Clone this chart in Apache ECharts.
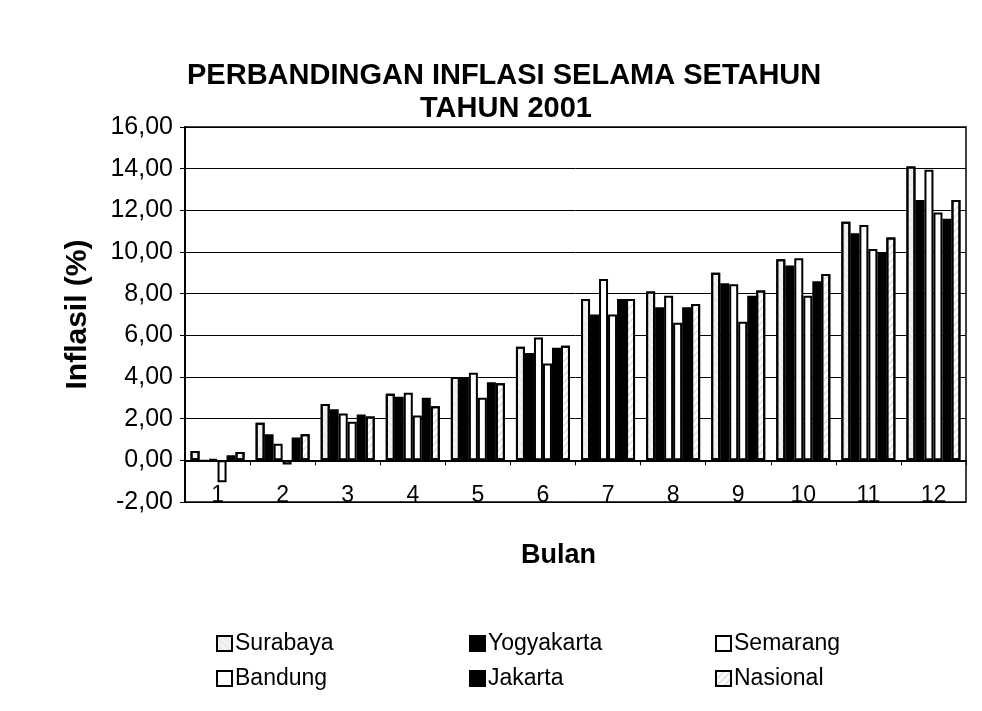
<!DOCTYPE html>
<html>
<head>
<meta charset="utf-8">
<script src="https://cdn.jsdelivr.net/npm/echarts@6/dist/echarts.min.js"></script>
<style>
html,body{margin:0;padding:0;background:#fff;}
#chart{width:982px;height:711px;}
</style>
</head>
<body>
<div id="chart"></div>
<script>
// ---- Data ----
var months = ['1','2','3','4','5','6','7','8','9','10','11','12'];
var surabaya   = [0.45, 1.8, 2.7, 3.2, 4.0, 5.45, 7.75, 8.1, 9.0, 9.65, 11.45, 14.1];
var yogyakarta = [-0.05, 1.25, 2.45, 3.05, 4.0, 5.15, 7.0, 7.35, 8.5, 9.35, 10.9, 12.5];
var semarang   = [0.05, 0.8, 2.25, 3.25, 4.2, 5.9, 8.7, 7.9, 8.45, 9.7, 11.3, 13.95];
var bandung    = [-1.05, -0.2, 1.85, 2.15, 3.0, 4.65, 7.0, 6.6, 6.65, 7.9, 10.15, 11.9];
var jakarta    = [0.25, 1.1, 2.2, 3.0, 3.75, 5.4, 7.75, 7.35, 7.9, 8.6, 10.0, 11.6];
var nasional   = [0.4, 1.25, 2.1, 2.6, 3.7, 5.5, 7.75, 7.5, 8.15, 8.95, 10.7, 12.5];
var yTicks = {min: -2, max: 16, step: 2};
var titleLines = ['PERBANDINGAN INFLASI SELAMA SETAHUN', 'TAHUN 2001'];

var FONT = 'Liberation Sans, Arial, sans-serif';
var chart = echarts.init(document.getElementById('chart'), null, {renderer: 'canvas'});

function bar(name, data, fill, decal) {
  var s = {
    name: name, type: 'bar', data: data, xAxisIndex: 0, yAxisIndex: 0,
    barGap: '0%', barCategoryGap: '17%',
    itemStyle: {color: fill, borderColor: '#000', borderWidth: 2},
    emphasis: {disabled: true}
  };
  if (decal) s.itemStyle.decal = decal;
  return s;
}

var legendCommon = {
  orient: 'vertical', top: 627, itemGap: 12, itemWidth: 15, itemHeight: 15,
  icon: 'rect',
  textStyle: {fontFamily: FONT, fontSize: 23, color: '#000', padding: [0, 0, 0, -2]},
  itemStyle: {borderColor: '#000', borderWidth: 2}
};

var titleStyle = {fontFamily: FONT, fontSize: 29, fontWeight: 'bold', color: '#000'};

var option = {
  backgroundColor: '#fff',
  animation: false,
  textStyle: {fontFamily: FONT, color: '#000'},
  title: [
    {text: titleLines[0], left: 187, top: 61, padding: 0, textStyle: titleStyle},
    {text: titleLines[1], left: 420, top: 94, padding: 0, textStyle: titleStyle}
  ],
  legend: [
    Object.assign({}, legendCommon, {left: 211, data: ['Surabaya', 'Bandung']}),
    Object.assign({}, legendCommon, {left: 464, data: ['Yogyakarta', 'Jakarta']}),
    Object.assign({}, legendCommon, {left: 710, data: ['Semarang', 'Nasional']})
  ],
  grid: {left: 185, right: 16, top: 127, bottom: 209, show: true, borderColor: '#000', borderWidth: 1.5, containLabel: false},
  xAxis: [
    {
      type: 'category', data: months, position: 'bottom',
      axisLine: {show: false, onZero: false},
      axisTick: {show: false},
      axisLabel: {margin: -18, fontSize: 23, color: '#000', fontFamily: FONT},
      name: 'Bulan', nameLocation: 'middle', nameGap: 40,
      nameTextStyle: {fontFamily: FONT, fontSize: 27, fontWeight: 'bold', color: '#000', padding: [0, 34, 0, 0]},
      splitLine: {show: false}
    },
    {
      type: 'category', data: months, position: 'bottom',
      axisLine: {show: true, onZero: true, lineStyle: {color: '#000', width: 2}},
      axisTick: {show: true, length: 5, lineStyle: {color: '#000', width: 1}},
      axisLabel: {show: false},
      splitLine: {show: false}
    }
  ],
  yAxis: {
    type: 'value', min: yTicks.min, max: yTicks.max, interval: yTicks.step,
    axisLine: {show: true, lineStyle: {color: '#000', width: 2}},
    axisTick: {show: true, length: 5, lineStyle: {color: '#000'}},
    axisLabel: {
      fontSize: 25, color: '#000', margin: 12, fontFamily: FONT,
      formatter: function (v) { return v.toFixed(2).replace('.', ','); }
    },
    splitLine: {show: true, lineStyle: {color: '#000', width: 1}},
    name: 'Inflasil (%)', nameLocation: 'middle', nameGap: 92, nameRotate: 90,
    nameTextStyle: {fontFamily: FONT, fontSize: 30, fontWeight: 'bold', color: '#000'}
  },
  series: [
    bar('Surabaya', surabaya, '#f2f2f2', {symbol: 'rect', symbolSize: 0.3, dashArrayX: [1, 0], dashArrayY: [1, 4], color: 'rgba(0,0,0,0.4)', rotation: 0.8}),
    bar('Yogyakarta', yogyakarta, '#000'),
    bar('Semarang', semarang, '#fff'),
    bar('Bandung', bandung, '#fff'),
    bar('Jakarta', jakarta, '#000'),
    bar('Nasional', nasional, '#fff', {symbol: 'rect', symbolSize: 0.4, dashArrayX: [1, 0], dashArrayY: [2, 3], color: 'rgba(0,0,0,0.5)', rotation: -0.8})
  ]
};
chart.setOption(option);
</script>
</body>
</html>
